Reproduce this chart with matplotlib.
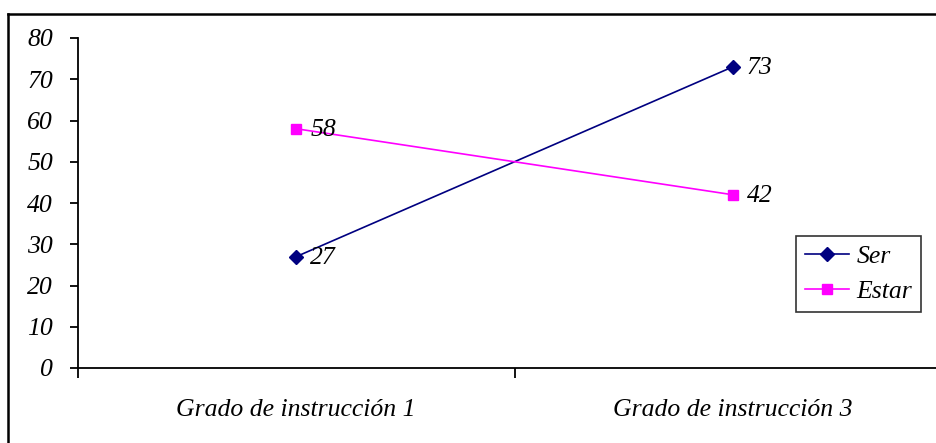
import matplotlib.pyplot as plt
from matplotlib.lines import Line2D

categorias = ['Grado de instrucción 1', 'Grado de instrucción 3']
ser = [27, 73]
estar = [58, 42]

plt.rcParams['font.family'] = 'Liberation Serif'
plt.rcParams['font.style'] = 'italic'
plt.rcParams['font.size'] = 18.5

W, H = 936, 443
fig = plt.figure(figsize=(W / 100, H / 100), dpi=100)
# axes: left spine at x=78px, 0 at y=368px, 80 at y=38px, right edge past the figure
ax = fig.add_axes([78 / W, (H - 368) / H, (951 - 78) / W, (368 - 38) / H])

xs = [i + 0.5 for i in range(len(categorias))]
ax.plot(xs, ser, color='#000080', lw=1.2, marker='D', ms=7, label='Ser', clip_on=False)
ax.plot(xs, estar, color='#FF00FF', lw=1.2, marker='s', ms=7, label='Estar', clip_on=False)

for x, v in zip(xs, ser):
    ax.annotate(str(v), (x, v), xytext=(10, -1), textcoords='offset points', va='center', ha='left')
for x, v in zip(xs, estar):
    ax.annotate(str(v), (x, v), xytext=(10, -1), textcoords='offset points', va='center', ha='left')

ax.set_xlim(0, len(categorias))
ax.set_ylim(0, 80)
ax.set_yticks(range(0, 81, 10))
ax.set_xticks(range(len(categorias) + 1))
ax.set_xticklabels([])
ax.set_xticks(xs, minor=True)
ax.set_xticklabels(categorias, minor=True)
ax.tick_params(axis='x', which='minor', length=0, pad=22)
ax.tick_params(axis='x', which='major', length=7, width=1.3, direction='out')
ax.tick_params(axis='y', length=6, width=1.3, direction='out', pad=12)

for s in ['top', 'right']:
    ax.spines[s].set_visible(False)
for s in ['left', 'bottom']:
    ax.spines[s].set_linewidth(1.3)

leg = ax.legend(loc='upper left', bbox_to_anchor=(796 / W, 1 - 236 / H),
                bbox_transform=fig.transFigure, frameon=True, fancybox=False,
                handlelength=1.7, handletextpad=0.3, borderpad=0.35, labelspacing=0.45,
                borderaxespad=0)
leg.get_frame().set_edgecolor('black')
leg.get_frame().set_linewidth(1.2)

# outer frame, only top and left edges fall inside the image
fig.add_artist(Line2D([8 / W, 1.01], [1 - 14 / H, 1 - 14 / H], transform=fig.transFigure, color='black', lw=1.8))
fig.add_artist(Line2D([8 / W, 8 / W], [1 - 14 / H, -0.01], transform=fig.transFigure, color='black', lw=1.8))

fig.savefig('out.png', dpi=100)
